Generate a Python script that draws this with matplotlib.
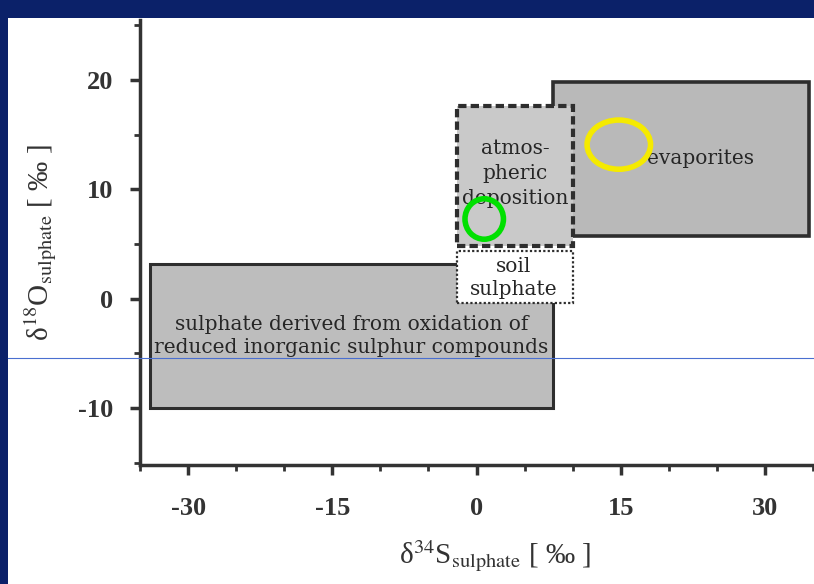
import matplotlib.pyplot as plt
from matplotlib.patches import Rectangle, Ellipse
from matplotlib.lines import Line2D

plt.rcParams['mathtext.fontset'] = 'stix'
plt.rcParams['axes.unicode_minus'] = False

# source fields (delta34S range, delta18O range)
regiao = ['oxidation', 'evaporites', 'atmospheric', 'soil']
s_min = [-34, 8, -2, -2]
s_max = [8, 34.6, 10, 10]
o_min = [-10, 5.7, 4.8, -0.4]
o_max = [3.2, 19.8, 17.6, 4.4]
textos = ['sulphate derived from oxidation of\nreduced inorganic sulphur compounds',
          'evaporites', 'atmos-\npheric\ndeposition', 'soil\nsulphate']
texto_s = [-13, 23.3, 4, 3.9]
texto_o = [-3.4, 12.8, 11.5, 1.9]

# marked samples (ellipses)
amostra_s = [14.8, 0.8]
amostra_o = [14.1, 7.3]
amostra_w = [6.6, 4.0]
amostra_h = [4.5, 3.7]
amostra_cor = ['#f5ea00', '#00e000']

x_ticks = [-30, -15, 0, 15, 30]
y_ticks = [-10, 0, 10, 20]

fig = plt.figure(figsize=(8.14, 5.84), dpi=100)
fig.patch.set_facecolor('#0b2169')
fundo = Rectangle((8 / 814, 0), 1, (584 - 18) / 584, transform=fig.transFigure,
                  facecolor='white', edgecolor='none', zorder=-10)
fig.add_artist(fundo)

ax = fig.add_axes([140 / 814, 119 / 584, 1 - 140 / 814, 445 / 584])
ax.set_facecolor('white')
ax.set_xlim(-35, 35.1)
ax.set_ylim(-15.2, 25.5)

cores = ['#bdbdbd', '#b9b9b9', '#c9c9c9', 'white']
estilos = ['-', '-', (0, (2, 1)), (0, (1, 1))]
larguras = [2.2, 2.6, 3.0, 1.6]
ordem = [2, 2, 3, 3]
espaco = [1.25, 1.25, 1.4, 1.25]
for i in range(len(regiao)):
    r = Rectangle((s_min[i], o_min[i]), s_max[i] - s_min[i], o_max[i] - o_min[i],
                  facecolor=cores[i], edgecolor='#2e2e2e', linewidth=larguras[i],
                  linestyle=estilos[i], zorder=ordem[i])
    ax.add_patch(r)
    ax.text(texto_s[i], texto_o[i], textos[i], ha='center', va='center',
            family='DejaVu Serif', fontsize=14.5, color='#262626',
            linespacing=espaco[i], zorder=5)

for i in range(len(amostra_s)):
    e = Ellipse((amostra_s[i], amostra_o[i]), amostra_w[i], amostra_h[i],
                facecolor='none', edgecolor=amostra_cor[i], linewidth=4, zorder=6)
    ax.add_patch(e)

for lado in ['top', 'right']:
    ax.spines[lado].set_visible(False)
for lado in ['left', 'bottom']:
    ax.spines[lado].set_linewidth(2.5)
    ax.spines[lado].set_color('#333333')

ax.set_xticks(x_ticks)
ax.set_yticks(y_ticks)
ax.set_xticks(range(-35, 36, 5), minor=True)
ax.set_yticks(range(-15, 26, 5), minor=True)
ax.tick_params(which='major', length=7, width=2.5, color='#333333', labelsize=19,
               labelcolor='#333333', pad=12)
ax.tick_params(axis='x', which='major', pad=16)
ax.tick_params(which='minor', length=4, width=2, color='#333333')
for t in ax.get_xticklabels() + ax.get_yticklabels():
    t.set_family('Liberation Serif')
    t.set_fontweight('bold')

ax.set_xlabel('δ$^{34}$S$_{\\mathrm{sulphate}}$ [ ‰ ]', family='Liberation Serif',
              fontsize=21, color='#333333')
ax.xaxis.set_label_coords(0.527, -0.165)
ax.set_ylabel('δ$^{18}$O$_{\\mathrm{sulphate}}$ [ ‰ ]', family='Liberation Serif',
              fontsize=21, color='#333333', labelpad=14)

# thin line across the slide
fig.add_artist(Line2D([8 / 814, 1], [1 - 358 / 584, 1 - 358 / 584], transform=fig.transFigure,
                      color='#4a6fd0', linewidth=0.8, zorder=10))

fig.savefig('out.png', dpi=100, facecolor=fig.get_facecolor())
